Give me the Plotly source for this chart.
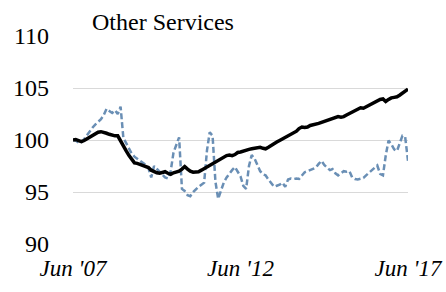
import plotly.graph_objects as go
import pandas as pd

dates = pd.date_range("2007-06-01", "2017-06-01", freq="MS")

series_a = [
    100.0, 100.05, 99.95, 99.85, 99.95, 100.1, 100.25, 100.45, 100.6, 100.75,
    100.8, 100.75, 100.65, 100.55, 100.45, 100.4, 100.4, 99.9, 99.3, 98.95,
    98.5, 98.1, 97.8, 97.75, 97.65, 97.55, 97.45, 97.35, 97.1, 96.95,
    96.85, 96.8, 96.85, 96.95, 96.8, 96.7, 96.85, 96.95, 97.0, 97.2,
    97.45, 97.2, 97.0, 96.9, 96.95, 96.95, 97.1, 97.25, 97.4, 97.6,
    97.75, 97.85, 98.0, 98.2, 98.35, 98.5, 98.55, 98.5, 98.6, 98.8,
    98.85, 98.95, 99.05, 99.1, 99.15, 99.2, 99.25, 99.3, 99.2, 99.15,
    99.3, 99.5, 99.65, 99.8, 99.95, 100.1, 100.25, 100.35, 100.55, 100.7,
    100.85, 101.1, 101.25, 101.2, 101.25, 101.4, 101.45, 101.55, 101.6, 101.7,
    101.8, 101.9, 101.95, 102.05, 102.2, 102.25, 102.2, 102.25, 102.4, 102.55,
    102.7, 102.85, 103.0, 103.1, 103.05, 103.2, 103.35, 103.5, 103.65, 103.8,
    103.9, 103.95, 103.7, 103.9, 104.05, 104.1, 104.15, 104.3, 104.5, 104.7,
    104.9,
]

series_b = [
    100.0, 99.95, 99.75, 99.8, 100.1, 100.5, 100.8, 101.2, 101.5, 101.75,
    102.0, 102.4, 103.0, 102.8, 102.6, 102.85, 102.5, 103.2, 100.2, 99.7,
    99.2, 98.7, 98.4, 98.2, 98.0, 97.8, 97.6, 97.3, 96.4, 97.5,
    97.2, 96.9, 96.6, 96.4, 96.3, 97.0, 98.8, 99.6, 100.25, 95.3,
    95.1, 94.7, 94.6, 95.0, 95.3, 95.5, 95.7, 95.9, 99.0, 100.75,
    100.4, 96.0, 94.35, 95.2, 95.9, 96.4, 96.8, 97.1, 97.4, 97.0,
    96.5, 95.6, 95.3, 97.5, 98.55, 98.2, 97.6, 97.0, 96.7, 96.6,
    96.2, 95.8, 95.5, 95.6, 95.7, 95.9, 95.5, 96.2, 96.3, 96.25,
    96.3, 96.25, 96.6, 96.9, 97.0, 97.1, 97.25, 97.35, 97.7, 98.0,
    97.6, 97.3, 97.1, 97.2, 96.8, 96.6, 96.8, 97.0, 96.95, 97.0,
    96.4, 96.25, 96.2, 96.3, 96.35, 96.6, 96.85, 97.1, 97.3, 97.55,
    96.75, 96.6, 98.5, 99.95, 99.6, 99.1, 98.95, 99.6, 100.4, 100.3,
    98.0,
]

tick_vals = ["2007-06-01", "2012-06-01", "2017-06-01"]
tick_text = ["Jun '07", "Jun '12", "Jun '17"]
y_ticks = [90, 95, 100, 105, 110]

SERIF = "Liberation Serif, Times New Roman, DejaVu Serif, serif"

fig = go.Figure()
fig.add_trace(go.Scatter(x=dates, y=series_b, mode="lines",
                         line=dict(color="#6a8fb5", width=2.5, dash="6px,3px")))
fig.add_trace(go.Scatter(x=dates, y=series_a, mode="lines",
                         line=dict(color="#000000", width=3.5)))

W, H = 446, 292
fig.update_layout(
    width=W, height=H,
    margin=dict(l=73, r=38, t=36, b=48),
    paper_bgcolor="white", plot_bgcolor="white",
    showlegend=False,
    font=dict(family=SERIF, color="#000000", size=24),
    title=dict(text="Other Services", x=92/W, xanchor="left", xref="container",
               y=1-22/H, yanchor="middle", yref="container",
               font=dict(family=SERIF, size=24, color="#000000")),
)
fig.update_xaxes(
    range=[dates[0], dates[-1]],
    tickvals=tick_vals, ticktext=tick_text,
    tickfont=dict(family=SERIF, size=23, style="italic"),
    showgrid=False, zeroline=False, showline=False, ticks="",
    ticklabelstandoff=8, automargin=False, ticklabeloverflow="allow",
)
fig.update_yaxes(
    range=[90, 110], tickvals=y_ticks,
    showgrid=True, gridcolor="#d9d9d9", gridwidth=1.3,
    zeroline=False, showline=False, ticks="",
    tickfont=dict(family=SERIF, size=24),
    ticklabelstandoff=23, automargin=False, ticklabeloverflow="allow",
)

fig.write_html(
    "out.html",
    config={"displayModeBar": False},
    post_script="document.body.style.margin='0';document.body.style.overflow='hidden';",
)
